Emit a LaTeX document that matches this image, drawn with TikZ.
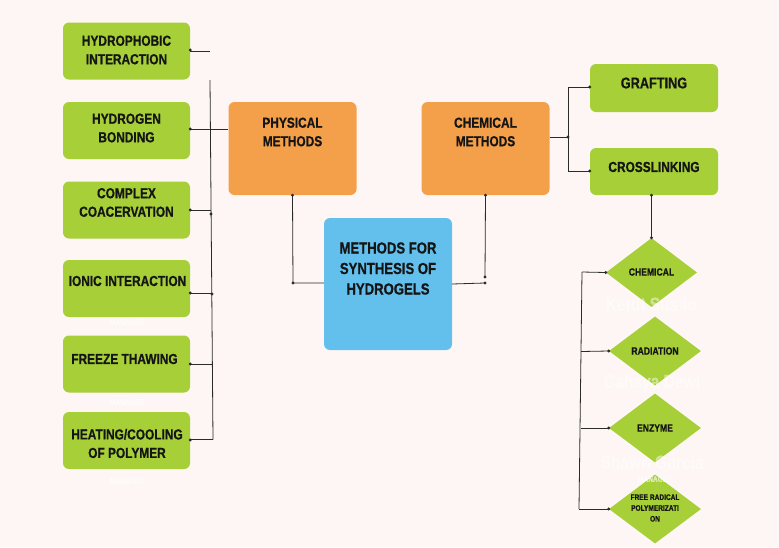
\documentclass[tikz,border=0pt]{standalone}
\usepackage{fontspec}
\setmainfont{Liberation Sans}[FakeStretch=0.82, BoldFeatures={FakeStretch=0.82, FakeBold=0.6}]
\usetikzlibrary{shapes.geometric}
\definecolor{bg}{HTML}{FDF6F4}
\definecolor{gr}{HTML}{A6CF38}
\definecolor{og}{HTML}{F4A04A}
\definecolor{bl}{HTML}{63BFEC}
\definecolor{tx}{HTML}{151515}
\definecolor{ln}{HTML}{2A2A2A}
\tikzset{
  box/.style={draw=none, rounded corners=6pt, inner sep=0pt},
  gbox/.style={box, fill=gr, minimum width=127pt, minimum height=57pt},
  obox/.style={box, fill=og, minimum width=128pt, minimum height=93pt},
  bbox/.style={box, fill=bl, minimum width=128pt, minimum height=132pt},
  dia/.style={diamond, fill=gr, inner sep=0pt, minimum width=92pt, minimum height=69pt},
  lbl/.style={text=tx, font=\fontsize{14.5}{18.5}\selectfont\bfseries, align=center, inner sep=0pt},
  dlbl/.style={text=tx, font=\fontsize{10.5}{11}\selectfont\bfseries, align=center, inner sep=0pt},
  wm/.style={text=white, text opacity=0.45, font=\fontsize{19}{20}\selectfont\bfseries, inner sep=0pt},
  wms/.style={text=white, text opacity=0.6, font=\fontsize{8}{9}\selectfont\bfseries, inner sep=0pt},
  conn/.style={draw=ln, line width=0.8pt},
  dot/.style={circle, fill=ln, inner sep=0pt, minimum size=3.2pt},
}
\begin{document}
\begin{tikzpicture}[x=1pt, y=-1pt]
\useasboundingbox[fill=bg] (0,0) rectangle (779,547);

% left green boxes
\node[gbox] (hi) at (126.5,51) {};
\node[gbox] (hb) at (126.5,130.5) {};
\node[gbox] (cc) at (126.5,210) {};
\node[gbox] (io) at (126.5,288.5) {};
\node[gbox] (fz) at (126.5,364) {};
\node[gbox] (hc) at (126.5,440.5) {};
\node[lbl] (thi) at (126.5,50) {HYDROPHOBIC\\INTERACTION};
\node[lbl] (thb) at (126.5,128) {HYDROGEN\\BONDING};
\node[lbl] (tcc) at (126.5,202.5) {COMPLEX\\COACERVATION};
\node[lbl] (tio) at (127.5,281) {IONIC INTERACTION};
\node[lbl] (tfz) at (124.5,359) {FREEZE THAWING};
\node[lbl] (thc) at (127,443.5) {HEATING/COOLING\\OF POLYMER};

% watermarks (faint white)
\node[wms] (w1) at (127,322) {MANAGER};
\node[wms] (w2) at (127,402) {MANAGER};
\node[wms] (w3) at (127,481) {MANAGER};

% orange and blue
\node[obox] (pm) at (292.5,148.5) {};
\node[obox] (cm) at (485.5,148.5) {};
\node[bbox] (hy) at (388,284) {};
\node[lbl] (tpm) at (292.5,132) {PHYSICAL\\METHODS};
\node[lbl] (tcm) at (485.5,132) {CHEMICAL\\METHODS};
\node[lbl, font=\fontsize{16}{20.5}\selectfont\bfseries] (thy) at (388,268.5) {METHODS FOR\\SYNTHESIS OF\\HYDROGELS};

% right green boxes
\node[gbox, minimum width=128pt, minimum height=48pt] (gf) at (654,88) {};
\node[gbox, minimum width=128pt, minimum height=47pt] (cl) at (654,171.5) {};
\node[lbl, font=\fontsize{15.5}{18.5}\selectfont\bfseries] (tgf) at (654,83) {GRAFTING};
\node[lbl] (tcl) at (654,167) {CROSSLINKING};

% diamonds
\node[dia, minimum width=91pt] (d1) at (651.5,272.5) {};
\node[dia] (d2) at (655,351) {};
\node[dia] (d3) at (655,428) {};
\node[dia] (d4) at (655,509) {};
\node[dlbl] (td1) at (651.5,272) {CHEMICAL};
\node[dlbl] (td2) at (655,351) {RADIATION};
\node[dlbl] (td3) at (655,428) {ENZYME};
\node[dlbl, font=\fontsize{8}{10.8}\selectfont\bfseries] (td4) at (655,508) {FREE RADICAL\\POLYMERIZATI\\ON};

\node[wm] (w4) at (651,304) {Ketut Susilo};
\node[wm] (w5) at (652,383) {Cahaya Dewi};
\node[wm] (w6) at (652,462) {Shawn Garcia};
\node[wms] (w7) at (655,479) {MANAGER};

% left connectors
\coordinate (s0) at (210,80);
\coordinate (s1) at (213,439.5);
\draw[conn] (s0) -- (s1);
\draw[conn] (hi.east) -- ++(20,0);
\draw[conn] (hb.east |- 0,129) -- (pm.west |- 0,129);
\draw[conn] (cc.east |- 0,210) -- (211,210);
\draw[conn] (io.east |- 0,293) -- (212,293);
\draw[conn] (fz.east |- 0,364) -- (212.5,364);
\draw[conn] (hc.east |- 0,439.5) -- (s1);
\node[dot] at (hi.east |- 0,50) {};
\node[dot] at (hb.east |- 0,129) {};
\node[dot] at (cc.east |- 0,210) {};
\node[dot] at (211,214) {};
\node[dot] at (io.east |- 0,293) {};
\node[dot] at (212,294) {};
\node[dot] at (fz.east |- 0,364) {};
\node[dot] at (hc.east |- 0,440) {};

% center connectors
\coordinate (pc) at (293,283);
\draw[conn] (pm.south) -- (pc) -- (hy.west |- pc);
\node[dot] at (pm.south) {};
\node[dot] at (pc) {};
\coordinate (cc1) at (485,283);
\draw[conn] (cm.south) -- (485,277);
\draw[conn] (hy.east |- 0,284) -- (cc1);
\node[dot] at (485,277) {};
\node[dot] at (cm.south) {};
\node[dot] at (cc1) {};

% chemical branches
\coordinate (br) at (568,137);
\draw[conn] (cm.east |- br) -- (br);
\draw[conn] (568,87) -- (568,171);
\draw[conn] (568,87) -- (gf.west |- 0,87);
\draw[conn] (568,171) -- (cl.west |- 0,171);
\node[dot] at (br) {};
\node[dot] at (gf.west |- 0,87) {};
\node[dot] at (cl.west |- 0,171) {};

% crosslinking to diamonds
\draw[conn] (cl.south -| d1.north) -- (d1.north);
\node[dot] at (cl.south -| d1.north) {};
\node[dot] at (d1.north) {};
\coordinate (v0) at (582,272);
\coordinate (v1) at (579,509);
\draw[conn] (v0) -- (v1);
\draw[conn] (v0) -- (d1.west);
\draw[conn] (581,351.5) -- (d2.west);
\draw[conn] (580.5,428) -- (d3.west);
\draw[conn] (v1) -- (d4.west);
\node[dot] at (d1.west) {};
\node[dot] at (d2.west) {};
\node[dot] at (d3.west) {};
\node[dot] at (d4.west) {};
\end{tikzpicture}
\end{document}
